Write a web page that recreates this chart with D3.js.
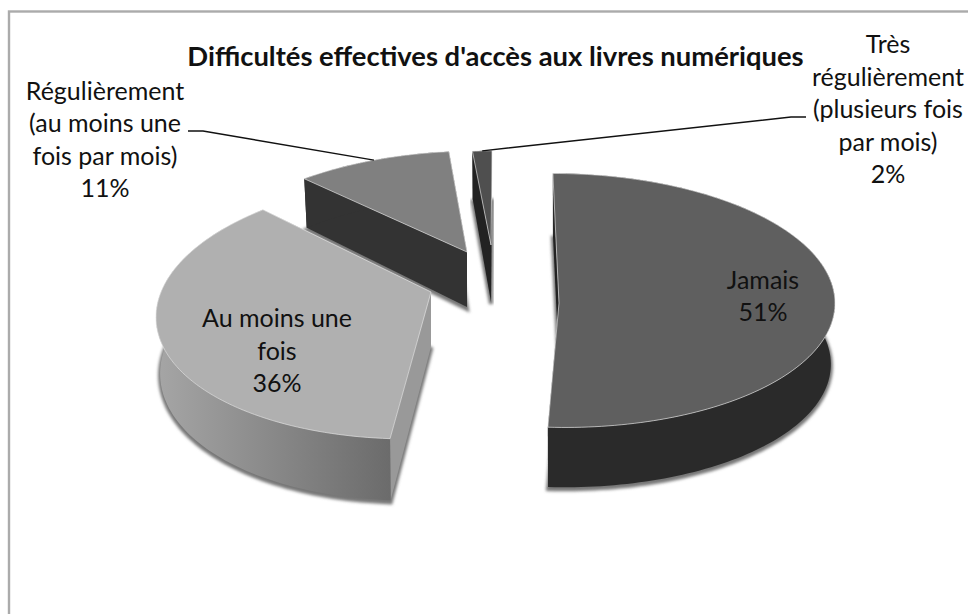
<!DOCTYPE html>
<html>
<head>
<meta charset="utf-8">
<script src="https://d3js.org/d3.v7.min.js"></script>
<style>
body { margin: 0; background: #fff; }
text { font-family: Lato, sans-serif; fill: #111; text-anchor: middle; }
.title { font-size: 27.4px; font-weight: 700; }
.label { font-size: 25px; }
.leader { fill: none; stroke: #111; stroke-width: 1.4; }
</style>
</head>
<body>
<div id="chart"></div>
<script>

var categories = ["Jamais", "Au moins une fois", "Régulièrement (au moins une fois par mois)", "Très régulièrement (plusieurs fois par mois)"];
var values = [51, 36, 11, 2];
var labelLines = [
	["Jamais", "51%"],
	["Au moins une", "fois", "36%"],
	["Régulièrement", "(au moins une", "fois par mois)", "11%"],
	["Très", "régulièrement", "(plusieurs fois", "par mois)", "2%"]
];
var title = "Difficultés effectives d'accès aux livres numériques";

var width = 968, height = 614;

// each slice sits on its own apex, the picture has a strong perspective
var views = [
	{ax: 559, ay: 303, rx: 276, ry: 127, k: -0.02, skew: -6, depth: 61, top: "#5f5f5f", side: "#2a2a2a", face: "#222"},
	{ax: 431, ay: 292, rx: 270, ry: 131, k: 0.122, skew: 19.6, depth: 55, top: "#b0b0b0", side: "url(#sideGrad)", face: "#999"},
	{ax: 467, ay: 252, rx: 261, ry: 120, k: 0.158, skew: 11.4, depth: 55, top: "#808080", side: "#333", face: "#333"},
	{ax: 491, ay: 245, rx: 185, ry: 112, k: 0.158, skew: 1.2, depth: 57, top: "#4f4f4f", side: "#222", face: "#222"}
];
var labelPos = [[763, 289], [277, 327], [105, 100], [888, 53]];
var labelStep = [32, 32.5, 32.3, 32.5];
var leaderEnds = {2: [[188, 131], [203, 131]], 3: [[806, 117], [791, 117]]};

var svg = d3.select('#chart').append('svg')
	.attr('width', width)
	.attr('height', height)
	.style('display', 'block');

var defs = svg.append('defs');
var grad = defs.append('linearGradient')
	.attr('id', 'sideGrad')
	.attr('gradientUnits', 'userSpaceOnUse')
	.attr('x1', 155).attr('x2', 392).attr('y1', 0).attr('y2', 0);
grad.append('stop').attr('offset', 0).attr('stop-color', '#a6a6a6');
grad.append('stop').attr('offset', 1).attr('stop-color', '#6b6b6b');
defs.append('filter').attr('id', 'soft')
	.attr('x', '-10%').attr('y', '-10%').attr('width', '120%').attr('height', '120%')
	.append('feGaussianBlur').attr('stdDeviation', 1.8);

// only the top and left of the frame fall inside the picture
svg.append('rect')
	.attr('x', 9).attr('y', 11.5)
	.attr('width', 1000).attr('height', 700)
	.attr('fill', '#fff')
	.attr('stroke', '#ababab')
	.attr('stroke-width', 2.4);

function project(v, a, r) {
	var s = Math.sin(a), c = Math.cos(a);
	var p = 1 - v.k * r * c;
	return [v.ax + r * (v.rx * s + v.skew * c) * p, v.ay - r * v.ry * c * p];
}

function lower(v, a, r) {
	var t = project(v, a, r);
	var p = 1 - v.k * r * Math.cos(a);
	return [v.ax + (t[0] - v.ax) * 0.985, t[1] + v.depth * p];
}

function angles(d) {
	var n = Math.max(4, Math.ceil((d.endAngle - d.startAngle) * 40));
	return d3.range(n + 1).map(function(i) { return d.startAngle + (d.endAngle - d.startAngle) * i / n; });
}

var line = d3.line();
var pie = d3.pie().sort(null).value(function(d) { return d; });
var arcs = pie(values).map(function(d, i) { return {arc: d, view: views[i], index: i}; });

function topFace(d) {
	var pts = angles(d.arc).map(function(a) { return project(d.view, a, 1); });
	return line([[d.view.ax, d.view.ay]].concat(pts)) + 'Z';
}
function bottomFace(d) {
	var pts = angles(d.arc).map(function(a) { return lower(d.view, a, 1); });
	return line([lower(d.view, 0, 0)].concat(pts)) + 'Z';
}
function rimWall(d) {
	var as = angles(d.arc);
	var up = as.map(function(a) { return project(d.view, a, 1); });
	var down = as.slice().reverse().map(function(a) { return lower(d.view, a, 1); });
	return line(up.concat(down)) + 'Z';
}
function radialWall(d, a) {
	return line([project(d.view, a, 1), project(d.view, a, 0), lower(d.view, a, 0), lower(d.view, a, 1)]) + 'Z';
}

// back slices first, the big light one overlaps the 11% slice
var order = [3, 0, 2, 1];
var slice = svg.selectAll('.slice')
	.data(order.map(function(i) { return arcs[i]; }))
	.enter().append('g')
		.attr('class', 'slice');

slice.append('path')
	.attr('d', bottomFace)
	.attr('transform', 'translate(0,2)')
	.attr('fill', '#777')
	.attr('stroke', '#777')
	.attr('stroke-width', 4)
	.attr('filter', 'url(#soft)');
slice.append('path')
	.attr('d', function(d) { return radialWall(d, d.arc.endAngle); })
	.attr('fill', function(d) { return d.view.face; });
slice.append('path')
	.attr('d', function(d) { return radialWall(d, d.arc.startAngle); })
	.attr('fill', function(d) { return d.view.face; });
slice.append('path')
	.attr('d', rimWall)
	.attr('fill', function(d) { return d.view.side; });
slice.append('path')
	.attr('d', topFace)
	.attr('fill', function(d) { return d.view.top; })
	.attr('stroke', '#e4e4e4')
	.attr('stroke-opacity', 0.75)
	.attr('stroke-width', 0.9);

// leader lines for the two outside labels
[2, 3].forEach(function(i) {
	var d = arcs[i];
	var mid = (d.arc.startAngle + d.arc.endAngle) / 2;
	svg.append('path')
		.attr('class', 'leader')
		.attr('d', line(leaderEnds[i].concat([project(d.view, mid, 1)])));
});

svg.append('text')
	.attr('class', 'title')
	.attr('x', 495.5)
	.attr('y', 66)
	.text(title);

svg.selectAll('.label')
	.data(labelLines)
	.enter().append('text')
		.attr('class', 'label')
		.each(function(d, i) {
			d3.select(this).selectAll('tspan')
				.data(d)
				.enter().append('tspan')
					.attr('x', labelPos[i][0])
					.attr('y', function(t, j) { return labelPos[i][1] + j * labelStep[i]; })
					.text(function(t) { return t; });
		});

</script>
</body>
</html>
